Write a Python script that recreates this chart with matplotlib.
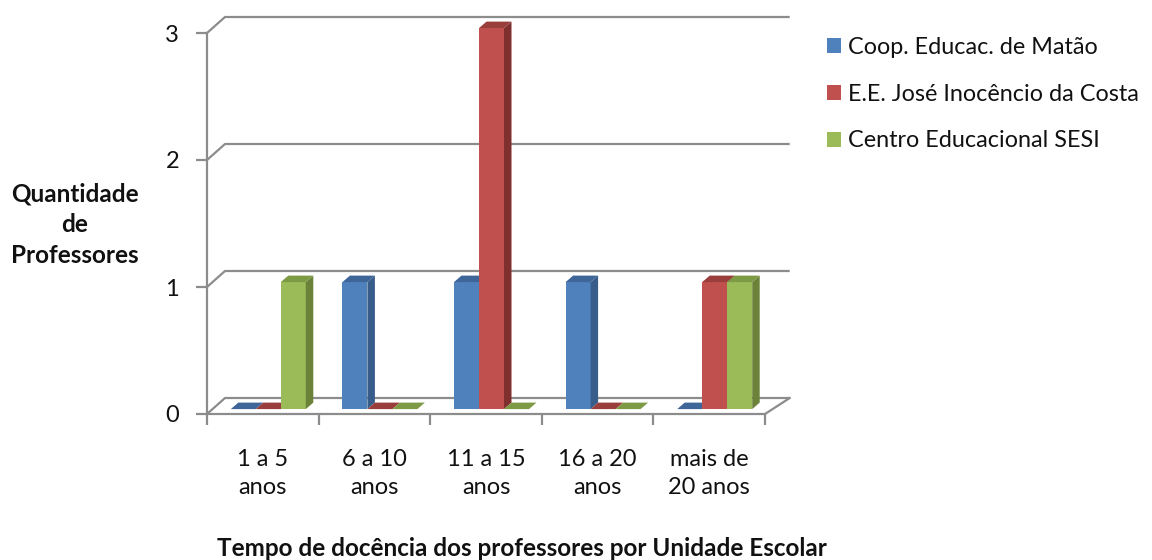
import numpy as np
import matplotlib.pyplot as plt
from matplotlib.patches import Patch

plt.rcParams['font.family'] = ['Lato', 'DejaVu Sans']

# dados
categorias = ['1 a 5\nanos', '6 a 10\nanos', '11 a 15\nanos', '16 a 20\nanos', 'mais de\n20 anos']
escolas = ['Coop. Educac. de Matão', 'E.E. José Inocêncio da Costa', 'Centro Educacional SESI']
coop = [0, 1, 1, 1, 0]
ee = [0, 0, 3, 0, 1]
sesi = [1, 0, 0, 0, 1]
series = [coop, ee, sesi]

# cores (frente, lado, topo)
cores = [('#4f81bd', '#385d8a', '#3e6699'),
         ('#c0504d', '#7f302e', '#9a3e3b'),
         ('#9bbb59', '#6b8239', '#7d9a44')]
cinza = '#8c8c8c'
texto = '#111111'

fig = plt.figure(figsize=(11.52, 5.6), dpi=100)
ax = fig.add_axes([207/1152, 1-414/560, 558/1152, 381/560])
ax.set_xlim(-0.5, 4.5)
ax.set_ylim(0, 3)

# profundidade (efeito 3D) em unidades de dados
ddx, ddy = 18/111.6, 16/127.
sx, sy = 5.5/111.6, 4.9/127.
bx, by = 7.5/111.6, 6.5/127.
w = 0.224

# parede do fundo e chao
for v in range(4):
    ax.plot([-0.5, -0.5+ddx, 4.5+ddx+0.06], [v, v+ddy, v+ddy], color=cinza, lw=1.6,
            clip_on=False, zorder=1, solid_capstyle='butt')
ax.plot([4.5, 4.5+ddx+0.06], [0, ddy], color=cinza, lw=1.6, clip_on=False, zorder=1)

# barras
z = 2
for i in range(len(categorias)):
    for k, s in enumerate(series):
        x0 = i - 1.5*w + k*w + sx
        y0 = sy
        h = s[i]
        fr, la, to = cores[k]
        if h > 0:
            ax.fill([x0, x0+w, x0+w, x0], [y0, y0, y0+h, y0+h], color=fr, clip_on=False, zorder=z, lw=0)
            ax.fill([x0+w, x0+w+bx, x0+w+bx, x0+w], [y0, y0+by, y0+h+by, y0+h], color=la,
                    clip_on=False, zorder=z, lw=0)
        ax.fill([x0, x0+w, x0+w+bx, x0+bx], [y0+h, y0+h, y0+h+by, y0+h+by], color=to,
                clip_on=False, zorder=z, lw=0)
        z += 1

# eixos
for sp in ['top', 'right']:
    ax.spines[sp].set_visible(False)
ax.spines['left'].set_color(cinza)
ax.spines['bottom'].set_color(cinza)
ax.spines['left'].set_linewidth(1.6)
ax.spines['bottom'].set_linewidth(1.6)
ax.set_yticks([0, 1, 2, 3])
ax.tick_params(axis='y', length=8, width=1.6, color=cinza, pad=12, labelsize=17, labelcolor=texto)
ax.set_xticks(range(len(categorias)))
ax.set_xticklabels(categorias, linespacing=1.45)
ax.set_xticks(np.arange(-0.5, 4.6, 1), minor=True)
ax.tick_params(axis='x', which='major', length=0, pad=25, labelsize=17, labelcolor=texto)
ax.tick_params(axis='x', which='minor', length=8, width=1.6, color=cinza)
ax.patch.set_visible(False)

fig.text(75/1152, 1-225/560, 'Quantidade\nde\nProfessores', ha='center', va='center',
         fontsize=17.5, fontweight='bold', linespacing=1.4, color=texto)
fig.text(522/1152, 1-548/560, 'Tempo de docência dos professores por Unidade Escolar',
         ha='center', va='center', fontsize=17.5, fontweight='bold', color=texto)

handles = [Patch(facecolor=c[0], edgecolor='none') for c in cores]
fig.legend(handles, escolas, loc='upper left', bbox_to_anchor=(806/1152, 1-16/560),
           frameon=False, fontsize=16.8, handlelength=0.6, handleheight=0.6,
           handletextpad=0.3, labelspacing=1.1, labelcolor=texto)

fig.savefig('out.png', dpi=100)
